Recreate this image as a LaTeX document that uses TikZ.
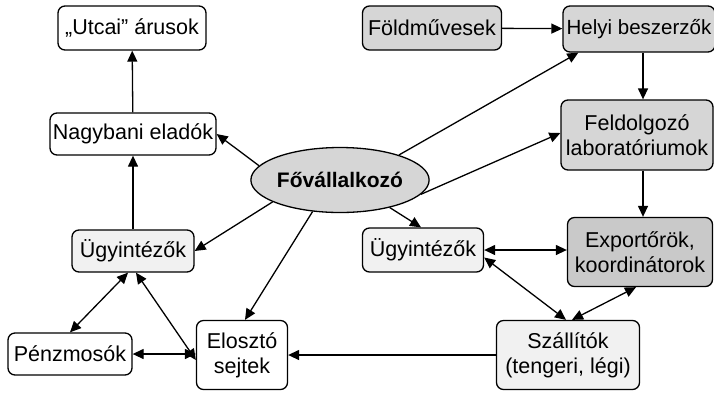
\documentclass[tikz,border=0pt]{standalone}
\usepackage{fontspec}
\setmainfont{Liberation Sans}
\usetikzlibrary{shapes.geometric,arrows.meta}
\definecolor{boxlight}{HTML}{F1F1F1}
\definecolor{boxmid}{HTML}{D6D6D6}
\definecolor{boxdark}{HTML}{C9C9C9}
\begin{document}
\begin{tikzpicture}[x=1pt,y=-1pt,
  box/.style={draw, line width=1.3pt, rounded corners=7pt, align=center,
    inner sep=0pt, font=\fontsize{21.5}{25}\selectfont},
  lightbox/.style={box, fill=boxlight},
  midbox/.style={box, fill=boxmid},
  darkbox/.style={box, fill=boxdark},
  link/.style={line width=1.3pt, -{Triangle[length=11pt,width=10pt]}},
  twoway/.style={line width=1.3pt, {Triangle[length=11pt,width=10pt]}-{Triangle[length=11pt,width=10pt]}}]
\useasboundingbox (0,0) rectangle (714,392);
% left side
\node[box, minimum width=148pt, minimum height=44pt] (utcai) at (132,28) {„Utcai” árusok};
\node[box, minimum width=166pt, minimum height=42pt] (nagy) at (133,134) {Nagybani eladók};
\node[lightbox, minimum width=122pt, minimum height=42pt] (ugyL) at (133,251) {Ügyintézők};
\node[box, minimum width=124pt, minimum height=42pt] (penz) at (70,354) {Pénzmosók};
\node[box, minimum width=91pt, minimum height=69pt] (elo) at (242,355) {Elosztó\\sejtek};
% centre
\node[ellipse, draw, line width=1.3pt, fill=boxmid, inner sep=0pt, minimum width=133pt,
  minimum height=65pt, font=\fontsize{21}{25}\selectfont\bfseries] (fo) at (340,180) {Fővállalkozó};
% right side
\node[midbox, minimum width=139pt, minimum height=44pt] (fold) at (432,28) {Földművesek};
\node[midbox, minimum width=152pt, minimum height=46pt, font=\fontsize{20.5}{25}\selectfont] (helyi) at (639,29) {Helyi beszerzők};
\node[midbox, minimum width=152pt, minimum height=70pt] (feld) at (637,135) {Feldolgozó\\laboratóriumok};
\node[lightbox, minimum width=121pt, minimum height=44pt] (ugyR) at (423,250) {Ügyintézők};
\node[darkbox, minimum width=145pt, minimum height=69pt] (exp) at (640,252) {Exportőrök,\\koordinátorok};
\node[lightbox, minimum width=143pt, minimum height=69pt] (szall) at (568,355) {Szállítók\\(tengeri, légi)};

% one-way links
\draw[link] (nagy) -- (utcai);
\draw[link] (ugyL) -- (nagy);
\draw[link] (fo.170) -- (nagy.east);
\draw[link] (fo.198) -- (ugyL.east);
\draw[link] (fo.229) -- ([xshift=3pt]elo.north);
\draw[link] (fo.23) -- ([xshift=16pt]helyi.south west);
\draw[link] (fo.-10) -- ([yshift=2pt]feld.west);
\draw[link] (fo.-29) -- ([xshift=-2pt]ugyR.north);
\draw[link] (fold) -- (helyi);
\draw[link] ([xshift=4pt]helyi.south) -- ([xshift=4pt]helyi.south |- feld.north);
\draw[link] ([xshift=6pt]feld.south) -- ([xshift=6pt]feld.south |- exp.north);
\draw[link] (szall.west) -- (szall.west -| elo.east);
% two-way links
\draw[twoway] (ugyR.east) -- (ugyR.east -| exp.west);
\draw[twoway] (ugyR.-7) -- ([xshift=-2pt]szall.north);
\draw[twoway] ([xshift=-4pt]exp.south) -- ([xshift=4pt]szall.north);
\draw[twoway] ([xshift=-5pt]ugyL.south) -- (penz.north);
\draw[twoway] ([xshift=3pt]ugyL.south) -- ([yshift=-5pt]elo.west);
\draw[twoway] (penz.east) -- (penz.east -| elo.west);
\end{tikzpicture}
\end{document}
